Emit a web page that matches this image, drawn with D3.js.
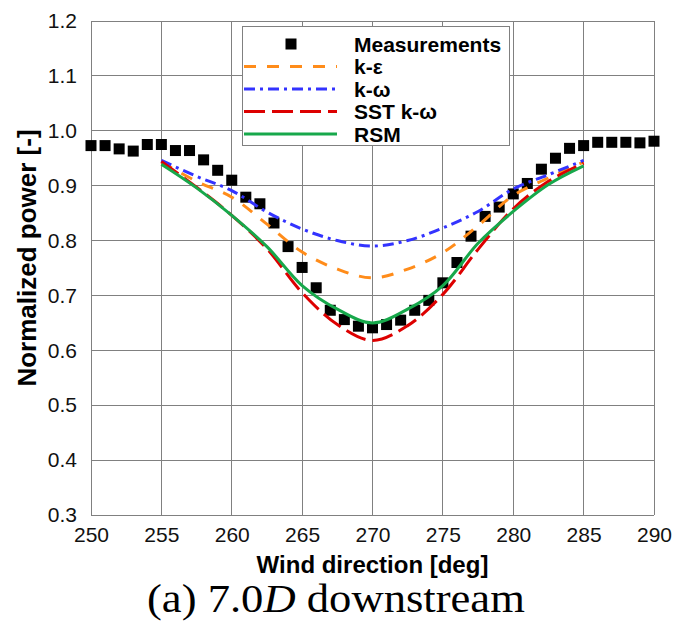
<!DOCTYPE html>
<html>
<head>
<meta charset="utf-8">
<script src="https://cdn.jsdelivr.net/npm/d3@7"></script>
<style>
  html, body { margin: 0; padding: 0; background: #fff; }
  svg { display: block; }
</style>
</head>
<body>
<svg id="chart" width="674" height="622"></svg>
<script>
// Wind directions of the measured points [deg]
const measuredDirection = [250, 251, 252, 253, 254, 255, 256, 257, 258, 259, 260,
  261, 262, 263, 264, 265, 266, 267, 268, 269, 270,
  271, 272, 273, 274, 275, 276, 277, 278, 279, 280,
  281, 282, 283, 284, 285, 286, 287, 288, 289, 290];
// Measured normalized power
const measuredPower = [0.973, 0.973, 0.967, 0.963, 0.975, 0.975, 0.964, 0.964, 0.947, 0.928, 0.910,
  0.879, 0.867, 0.832, 0.789, 0.751, 0.714, 0.673, 0.656, 0.644, 0.641,
  0.647, 0.655, 0.673, 0.691, 0.723, 0.760, 0.808, 0.844, 0.861, 0.885,
  0.904, 0.930, 0.950, 0.968, 0.973, 0.979, 0.979, 0.979, 0.978, 0.981];

// Wind directions of the simulated cases [deg]
const modelDirection = [255, 257.5, 260, 262.5, 265, 267.5, 270, 272.5, 275, 277.5, 280, 282.5, 285];
// Simulated normalized power per turbulence model
const kEpsilon = [0.943, 0.908, 0.879, 0.830, 0.779, 0.748, 0.732, 0.748, 0.778, 0.827, 0.882, 0.914, 0.943];
const kOmega   = [0.946, 0.917, 0.891, 0.852, 0.821, 0.800, 0.790, 0.800, 0.823, 0.853, 0.894, 0.920, 0.946];
const sstKOmega = [0.944, 0.897, 0.846, 0.785, 0.705, 0.647, 0.618, 0.645, 0.702, 0.784, 0.858, 0.908, 0.941];
const rsm      = [0.939, 0.896, 0.846, 0.789, 0.718, 0.675, 0.650, 0.675, 0.718, 0.795, 0.853, 0.902, 0.936];

const xTicks = [250, 255, 260, 265, 270, 275, 280, 285, 290];
const yTicks = [0.3, 0.4, 0.5, 0.6, 0.7, 0.8, 0.9, 1.0, 1.1, 1.2];

const seriesNames = ["Measurements", "k-ε", "k-ω", "SST k-ω", "RSM"];

const models = [
  { name: "k-ε", values: kEpsilon, color: "#ff8c1a", dash: "12,11" },
  { name: "k-ω", values: kOmega, color: "#3333ff", dash: "11,5,3,5" },
  { name: "SST k-ω", values: sstKOmega, color: "#dd0000", dash: "21,7" },
  { name: "RSM", values: rsm, color: "#17a84b", dash: null }
];

const svg = d3.select("#chart");
const sans = "'Liberation Sans', Arial, sans-serif";
const gridColor = "#808080";

const x = d3.scaleLinear().domain([250, 290]).range([91, 654]);
const y = d3.scaleLinear().domain([0.3, 1.2]).range([515, 21]);

// Grid lines
const grid = svg.append("g");
grid.selectAll("line.v").data(xTicks).join("line")
  .attr("x1", d => x(d)).attr("x2", d => x(d))
  .attr("y1", y(1.2)).attr("y2", y(0.3))
  .attr("stroke", gridColor).attr("stroke-width", 1).attr("shape-rendering", "crispEdges");
grid.selectAll("line.h").data(yTicks).join("line")
  .attr("x1", x(250)).attr("x2", x(290))
  .attr("y1", d => y(d)).attr("y2", d => y(d))
  .attr("stroke", gridColor).attr("stroke-width", 1).attr("shape-rendering", "crispEdges");

// Axes (labels only; lines are the grid)
const xAxis = svg.append("g").attr("transform", `translate(0,${y(0.3)})`)
  .call(d3.axisBottom(x).tickValues(xTicks).tickSize(0).tickPadding(12).tickFormat(d3.format("d")));
xAxis.select(".domain").remove();
xAxis.selectAll("text").attr("font-family", sans).attr("font-size", 21).attr("fill", "#111");

const yAxis = svg.append("g").attr("transform", `translate(${x(250)},0)`)
  .call(d3.axisLeft(y).tickValues(yTicks).tickSize(0).tickPadding(14).tickFormat(d3.format(".1f")));
yAxis.select(".domain").remove();
yAxis.selectAll("text").attr("font-family", sans).attr("font-size", 21).attr("fill", "#111");

// Axis titles
svg.append("text")
  .attr("x", (x(250) + x(290)) / 2).attr("y", 573)
  .attr("text-anchor", "middle")
  .attr("font-family", sans).attr("font-size", 24).attr("font-weight", "bold")
  .text("Wind direction [deg]");

svg.append("text")
  .attr("transform", `translate(36,258) rotate(-90)`)
  .attr("text-anchor", "middle")
  .attr("font-family", sans).attr("font-size", 26).attr("font-weight", "bold")
  .text("Normalized power [-]");

// Measured points
const sq = 11;
svg.append("g").selectAll("rect").data(measuredDirection).join("rect")
  .attr("x", (d) => x(d) - sq / 2)
  .attr("y", (d, i) => y(measuredPower[i]) - sq / 2)
  .attr("width", sq).attr("height", sq)
  .attr("fill", "#000");

// Model curves
const line = d3.line()
  .x((d, i) => x(modelDirection[i]))
  .y(d => y(d))
  .curve(d3.curveCatmullRom.alpha(0.5));

svg.append("g").selectAll("path").data(models).join("path")
  .attr("d", d => line(d.values))
  .attr("fill", "none")
  .attr("stroke", d => d.color)
  .attr("stroke-width", 3)
  .attr("stroke-dasharray", d => d.dash);

// Legend
const legend = svg.append("g");
legend.append("rect")
  .attr("x", 242).attr("y", 26).attr("width", 267).attr("height", 119)
  .attr("fill", "#fff").attr("stroke", gridColor).attr("stroke-width", 1)
  .attr("shape-rendering", "crispEdges");
const rowY = i => 44 + i * 22.5;
legend.append("rect")
  .attr("x", 291 - sq / 2).attr("y", rowY(0) - sq / 2)
  .attr("width", sq).attr("height", sq).attr("fill", "#000");
models.forEach((m, i) => {
  legend.append("line")
    .attr("x1", 244).attr("x2", 337)
    .attr("y1", rowY(i + 1)).attr("y2", rowY(i + 1))
    .attr("stroke", m.color).attr("stroke-width", 3)
    .attr("stroke-dasharray", m.dash);
});
legend.selectAll("text").data(seriesNames).join("text")
  .attr("x", 354).attr("y", (d, i) => rowY(i))
  .attr("dy", "0.36em")
  .attr("font-family", sans).attr("font-size", 21).attr("font-weight", "bold")
  .text(d => d);

// Caption
const caption = svg.append("text")
  .attr("x", 0).attr("y", 0)
  .attr("font-family", "'Liberation Serif', 'Times New Roman', serif")
  .attr("font-size", 40);
caption.append("tspan").text("(a) 7.0");
caption.append("tspan").attr("font-style", "italic").text("D");
caption.append("tspan").text(" downstream");
const capW = caption.node().getComputedTextLength();
const capTarget = 378;
caption.attr("transform", `translate(${336 - capTarget / 2},612) scale(${capTarget / capW},1)`);
</script>
</body>
</html>
